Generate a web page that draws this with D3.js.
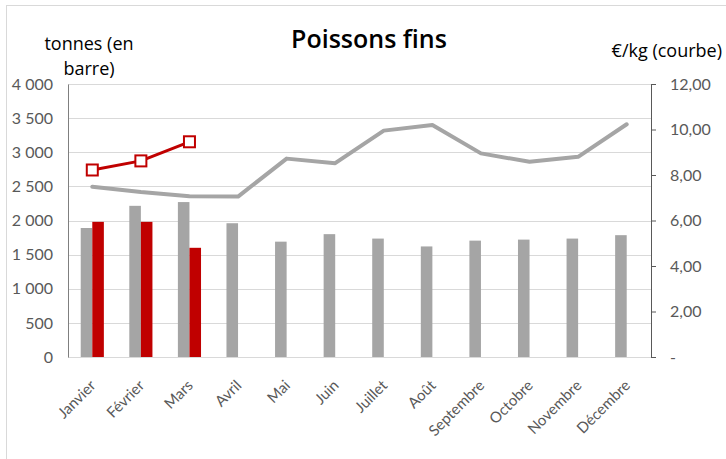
<!DOCTYPE html>
<html>
<head>
<meta charset="utf-8">
<script src="https://cdn.jsdelivr.net/npm/d3@7"></script>
<style>
  body { margin: 0; background: #fff; }
  svg text { font-family: Lato, "Open Sans", sans-serif; }
  svg text.head { font-family: "Open Sans", Lato, sans-serif; }
</style>
</head>
<body>
<div id="chart"></div>
<script>
const months = ['Janvier', 'Février', 'Mars', 'Avril', 'Mai', 'Juin', 'Juillet', 'Août', 'Septembre', 'Octobre', 'Novembre', 'Décembre'];
// tonnes (bars)
const tonnesPrev = [1890, 2215, 2270, 1960, 1690, 1800, 1735, 1620, 1705, 1720, 1735, 1785];
const tonnesCur = [1980, 1980, 1600];
// €/kg (lines)
const pricePrev = [7.48, 7.25, 7.07, 7.05, 8.72, 8.52, 9.95, 10.2, 8.95, 8.58, 8.8, 10.23];
const priceCur = [8.22, 8.62, 9.46];
const leftTicks = [0, 500, 1000, 1500, 2000, 2500, 3000, 3500, 4000];
const rightTicks = [0, 2, 4, 6, 8, 10, 12];

const W = 726, H = 459;
const margin = { top: 84, right: 75, bottom: 102, left: 68 };
const grey = '#a5a5a5', red = '#c00000', textGrey = '#595959';

const svg = d3.select('#chart').append('svg')
  .attr('width', W)
  .attr('height', H);

// chart frame
svg.append('rect')
  .attr('x', 6.5).attr('y', 5.5)
  .attr('width', 760).attr('height', 480)
  .attr('fill', 'none')
  .attr('stroke', '#d9d9d9');

const x0 = margin.left, x1 = W - margin.right;
const yTop = margin.top, yBot = H - margin.bottom;

const x = d3.scaleBand().domain(months).range([x0, x1]);
const xSub = d3.scaleBand().domain(['prev', 'cur']).range([0, x.bandwidth()]).paddingOuter(1.1);
const yL = d3.scaleLinear().domain([0, 4000]).range([yBot, yTop]);
const yR = d3.scaleLinear().domain([0, 12]).range([yBot, yTop]);

const fmtL = v => d3.format(',')(v).replace(/,/g, ' ');
const fmtR = v => v === 0 ? '-' : d3.format('.2f')(v).replace('.', ',');

// gridlines
svg.append('g')
  .selectAll('line')
  .data(leftTicks)
  .join('line')
  .attr('x1', x0).attr('x2', x1)
  .attr('y1', d => Math.round(yL(d)) + 0.5)
  .attr('y2', d => Math.round(yL(d)) + 0.5)
  .attr('stroke', '#d9d9d9')
  .attr('stroke-width', 1);

// left axis
const leftAxis = svg.append('g')
  .attr('transform', `translate(${x0},0)`)
  .call(d3.axisLeft(yL).tickValues(leftTicks).tickFormat(fmtL).tickSize(0).tickPadding(15));
leftAxis.select('.domain').attr('stroke', '#7f7f7f');
leftAxis.selectAll('text').attr('fill', textGrey).style('font-size', '16px');

// right axis
const rightAxis = svg.append('g')
  .attr('transform', `translate(${x1},0)`)
  .call(d3.axisRight(yR).tickValues(rightTicks).tickFormat(fmtR).tickSize(5).tickSizeOuter(0).tickPadding(14));
rightAxis.select('.domain').attr('stroke', '#595959');
rightAxis.selectAll('line').attr('stroke', '#595959');
rightAxis.selectAll('text').attr('fill', textGrey).style('font-size', '16px');

// bars
svg.append('g')
  .selectAll('rect')
  .data(tonnesPrev)
  .join('rect')
  .attr('x', (d, i) => x(months[i]) + xSub('prev'))
  .attr('y', d => yL(d))
  .attr('width', xSub.bandwidth())
  .attr('height', d => yBot - yL(d))
  .attr('fill', grey);

svg.append('g')
  .selectAll('rect')
  .data(tonnesCur)
  .join('rect')
  .attr('x', (d, i) => x(months[i]) + xSub('cur'))
  .attr('y', d => yL(d))
  .attr('width', xSub.bandwidth())
  .attr('height', d => yBot - yL(d))
  .attr('fill', red);

// lines
const cx = (d, i) => x(months[i]) + x.bandwidth() / 2;
const line = d3.line().x(cx).y(d => yR(d));

svg.append('path')
  .datum(pricePrev)
  .attr('d', line)
  .attr('fill', 'none')
  .attr('stroke', grey)
  .attr('stroke-width', 4)
  .attr('stroke-linejoin', 'round')
  .attr('stroke-linecap', 'round');

svg.append('path')
  .datum(priceCur)
  .attr('d', line)
  .attr('fill', 'none')
  .attr('stroke', red)
  .attr('stroke-width', 3)
  .attr('stroke-linejoin', 'round');

svg.append('g')
  .selectAll('rect')
  .data(priceCur)
  .join('rect')
  .attr('x', (d, i) => cx(d, i) - 5.5)
  .attr('y', d => yR(d) - 5.5)
  .attr('width', 11)
  .attr('height', 11)
  .attr('fill', '#fff')
  .attr('stroke', red)
  .attr('stroke-width', 2);

// month labels
svg.append('g')
  .selectAll('text')
  .data(months)
  .join('text')
  .attr('transform', d => `translate(${x(d) + x.bandwidth() / 2 - 3},${yBot + 22}) rotate(-45)`)
  .attr('text-anchor', 'end')
  .attr('dy', '0.7em')
  .attr('fill', textGrey)
  .style('font-size', '15px')
  .text(d => d);

// titles
svg.append('text')
  .attr('class', 'head')
  .attr('x', 369).attr('y', 48)
  .attr('text-anchor', 'middle')
  .style('font-size', '25px')
  .style('font-weight', '600')
  .attr('fill', '#000')
  .text('Poissons fins');

svg.append('text')
  .attr('class', 'head')
  .attr('x', 89).attr('y', 50)
  .attr('text-anchor', 'middle')
  .style('font-size', '18px')
  .attr('fill', '#000')
  .text('tonnes (en');

svg.append('text')
  .attr('class', 'head')
  .attr('x', 89).attr('y', 75)
  .attr('text-anchor', 'middle')
  .style('font-size', '18px')
  .attr('fill', '#000')
  .text('barre)');

svg.append('text')
  .attr('class', 'head')
  .attr('x', 722).attr('y', 57)
  .attr('text-anchor', 'end')
  .style('font-size', '18px')
  .attr('fill', '#000')
  .text('€/kg (courbe)');
</script>
</body>
</html>
